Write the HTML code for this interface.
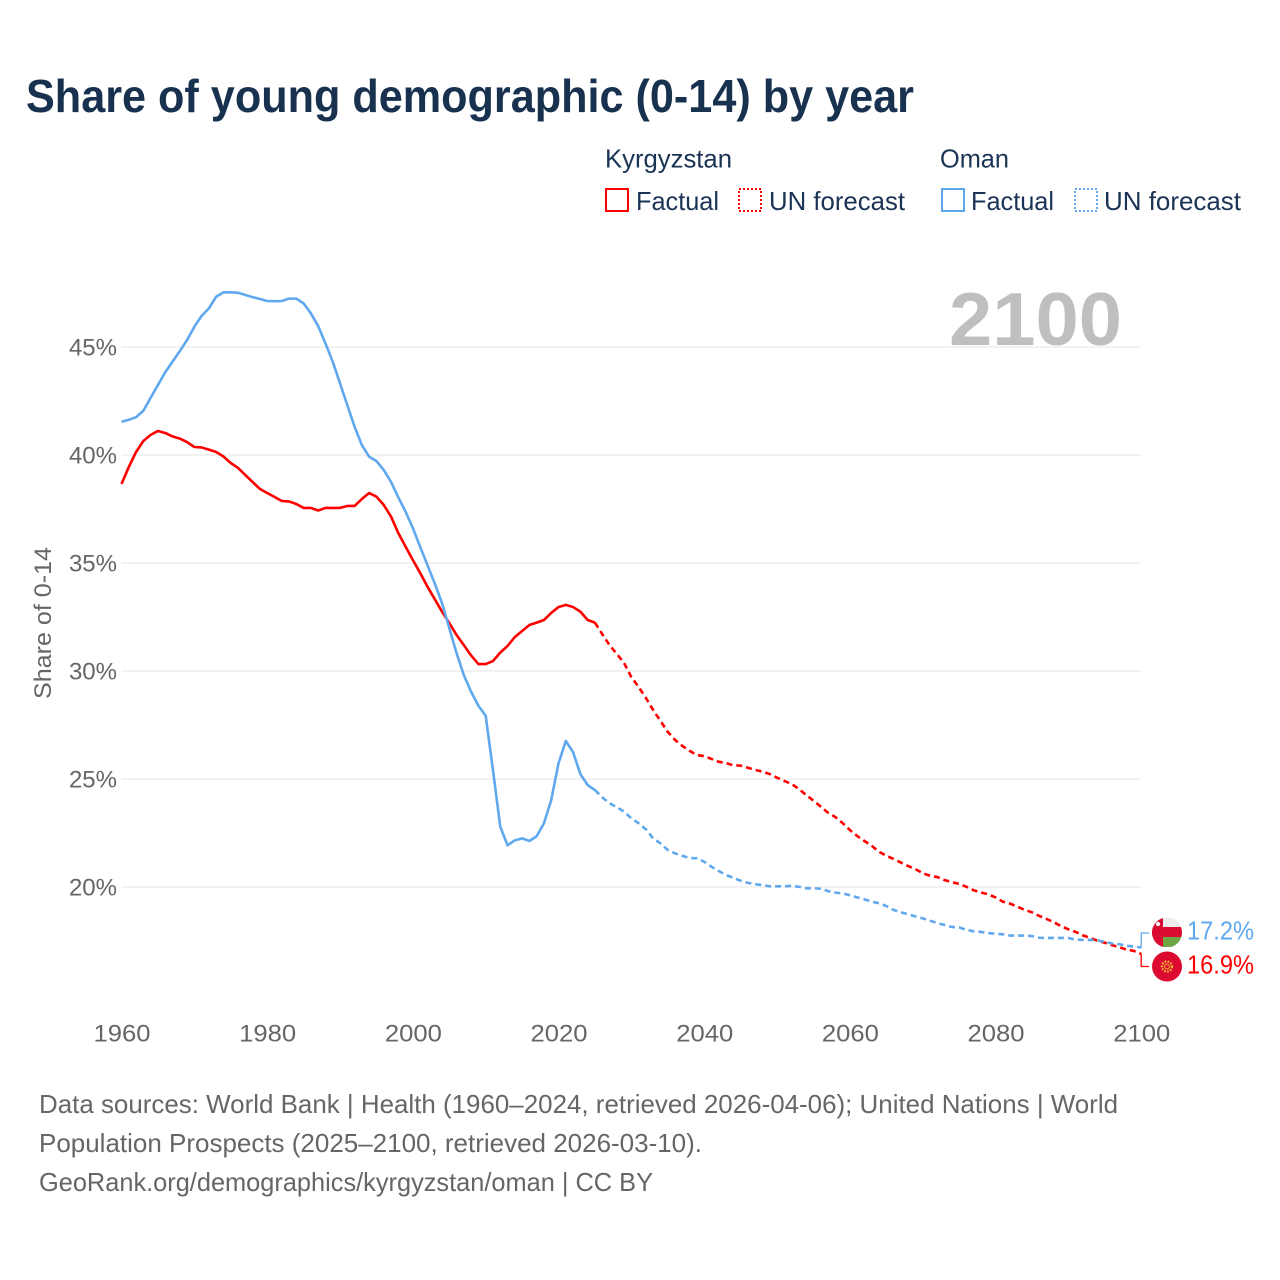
<!DOCTYPE html>
<html lang="en">
<head>
<meta charset="utf-8">
<title>Share of young demographic (0-14) by year</title>
<style>
html,body{margin:0;padding:0;background:#fff;}
svg{display:block;font-family:"Liberation Sans",sans-serif;}
</style>
</head>
<body>
<svg id="chart" xmlns="http://www.w3.org/2000/svg" width="1280" height="1280" viewBox="0 0 1280 1280">
<defs>
<clipPath id="flag-clip-om"><circle cx="1167" cy="932.5" r="15"/></clipPath>
<clipPath id="flag-clip-kg"><circle cx="1167" cy="966.5" r="15"/></clipPath>
</defs>
<rect x="0" y="0" width="1280" height="1280" fill="#ffffff"/>
<text x="26" y="112" font-size="46" font-weight="700" fill="#17314f" textLength="888" lengthAdjust="spacingAndGlyphs">Share of young demographic (0-14) by year</text>

<g font-size="26" fill="#1b3354">
<text x="605" y="167.5" textLength="127" lengthAdjust="spacingAndGlyphs">Kyrgyzstan</text>
<text x="940" y="167.5" textLength="69" lengthAdjust="spacingAndGlyphs">Oman</text>
<rect x="606" y="189" width="22" height="22" fill="none" stroke="#ff0000" stroke-width="2"/>
<text x="636" y="210" textLength="83" lengthAdjust="spacingAndGlyphs">Factual</text>
<rect x="739" y="189" width="22" height="22" fill="none" stroke="#ff0000" stroke-width="2" stroke-dasharray="2 2"/>
<text x="769" y="210" textLength="136" lengthAdjust="spacingAndGlyphs">UN forecast</text>
<rect x="942" y="189" width="22" height="22" fill="none" stroke="#5fa8ee" stroke-width="2"/>
<text x="971" y="210" textLength="83" lengthAdjust="spacingAndGlyphs">Factual</text>
<rect x="1075" y="189" width="22" height="22" fill="none" stroke="#5fa8ee" stroke-width="2" stroke-dasharray="2 2"/>
<text x="1104" y="210" textLength="137" lengthAdjust="spacingAndGlyphs">UN forecast</text>
</g>

<g id="grid"></g>
<text x="949" y="345" font-size="75" font-weight="700" fill="#bfbfbf" textLength="173" lengthAdjust="spacingAndGlyphs">2100</text>
<g id="y-ticks" font-size="24" fill="#666666"></g>
<g id="x-ticks" font-size="24" fill="#666666"></g>
<text transform="translate(51 699) rotate(-90)" x="0" y="0" font-size="24" fill="#666666" textLength="152" lengthAdjust="spacingAndGlyphs">Share of 0-14</text>
<g id="series" fill="none"></g>

<g clip-path="url(#flag-clip-om)">
<rect x="1152" y="917" width="30" height="30" fill="#ececec"/>
<rect x="1152" y="927" width="30" height="10" fill="#db0a30"/>
<rect x="1152" y="917" width="11" height="30" fill="#db0a30"/>
<rect x="1163" y="937" width="19" height="10" fill="#6fa544"/>
<circle cx="1158" cy="924" r="2.2" fill="#f4f4f4"/>
</g>
<g clip-path="url(#flag-clip-kg)">
<rect x="1152" y="951" width="30" height="31" fill="#dc0a30"/>
<circle cx="1167" cy="966.5" r="5" fill="none" stroke="#f2b632" stroke-width="2.4" stroke-dasharray="1.6 1.4"/>
<circle cx="1167" cy="966.5" r="2.4" fill="none" stroke="#f2b632" stroke-width="1"/>
</g>
<g id="end-labels" font-size="26"></g>

<g font-size="26" fill="#666666">
<text x="39" y="1113" textLength="1079" lengthAdjust="spacingAndGlyphs">Data sources: World Bank | Health (1960–2024, retrieved 2026-04-06); United Nations | World</text>
<text x="39" y="1152" textLength="663" lengthAdjust="spacingAndGlyphs">Population Prospects (2025–2100, retrieved 2026-03-10).</text>
<text x="39" y="1191" textLength="614" lengthAdjust="spacingAndGlyphs">GeoRank.org/demographics/kyrgyzstan/oman | CC BY</text>
</g>
</svg>

<script>
const startYear = 1960;
const lastFactualYear = 2025;
const xTickLabels = [1960, 1980, 2000, 2020, 2040, 2060, 2080, 2100];
const yTickLabels = [20, 25, 30, 35, 40, 45];

const kyrgyzstanFactual = [
38.66,39.44,40.14,40.65,40.93,41.11,41.02,40.86,40.76,40.6,
40.37,40.35,40.25,40.14,39.93,39.63,39.4,39.07,38.75,38.43,
38.24,38.06,37.87,37.85,37.73,37.55,37.55,37.43,37.55,37.55,
37.55,37.64,37.64,37.96,38.24,38.07,37.69,37.15,36.39,35.76,
35.14,34.54,33.91,33.33,32.75,32.22,31.67,31.2,30.72,30.32,
30.32,30.46,30.85,31.16,31.57,31.85,32.13,32.24,32.36,32.69,
32.96,33.06,32.96,32.75,32.36,32.24];
const kyrgyzstanForecast = [
31.71,31.2,30.79,30.37,29.72,29.26,28.75,28.19,27.69,27.18,
26.81,26.53,26.3,26.11,26.06,25.93,25.8,25.74,25.63,25.62,
25.52,25.42,25.34,25.23,25.06,24.91,24.77,24.54,24.26,24.0,
23.72,23.44,23.24,22.96,22.64,22.36,22.13,21.91,21.63,21.45,
21.3,21.13,20.97,20.83,20.64,20.52,20.46,20.32,20.23,20.14,
20.01,19.85,19.75,19.66,19.52,19.32,19.23,19.09,18.94,18.83,
18.66,18.52,18.37,18.19,18.04,17.92,17.76,17.64,17.51,17.42,
17.31,17.21,17.1,17.04,16.9];
const omanFactual = [
41.54,41.63,41.75,42.05,42.65,43.24,43.83,44.32,44.81,45.32,
45.94,46.44,46.79,47.33,47.53,47.53,47.51,47.41,47.31,47.22,
47.13,47.12,47.13,47.24,47.24,47.02,46.56,45.97,45.17,44.32,
43.32,42.31,41.31,40.46,39.92,39.72,39.31,38.76,38.04,37.38,
36.62,35.75,34.91,34.06,33.15,31.99,30.83,29.81,29.04,28.39,
27.93,25.42,22.79,21.93,22.16,22.25,22.13,22.35,22.95,24.03,
25.73,26.76,26.24,25.23,24.72,24.49];
const omanForecast = [
24.15,23.88,23.69,23.49,23.18,22.95,22.67,22.25,22.02,21.71,
21.56,21.44,21.34,21.33,21.17,20.94,20.74,20.56,20.42,20.29,
20.19,20.13,20.09,20.03,20.03,20.03,20.05,20.01,19.94,19.94,
19.92,19.81,19.74,19.71,19.62,19.52,19.43,19.32,19.25,19.12,
18.94,18.83,18.74,18.64,18.55,18.44,18.33,18.24,18.15,18.13,
18.02,17.95,17.92,17.86,17.84,17.81,17.75,17.75,17.75,17.73,
17.65,17.64,17.64,17.64,17.64,17.56,17.55,17.55,17.53,17.45,
17.39,17.35,17.28,17.24,17.2];

const NS = 'http://www.w3.org/2000/svg';
function xScale(year) { return 121.5 + (year - 1960) * 7.2836; }
function yScale(value) { return 887 - (value - 20) * 21.6; }
function make(tag, attrs, parent) {
  const el = document.createElementNS(NS, tag);
  for (const k in attrs) el.setAttribute(k, attrs[k]);
  parent.appendChild(el);
  return el;
}
function linePath(values, firstYear) {
  return values.map(function (v, i) {
    return (i ? 'L' : 'M') + xScale(firstYear + i).toFixed(2) + ' ' + yScale(v).toFixed(2);
  }).join('');
}

const grid = document.getElementById('grid');
const yTicks = document.getElementById('y-ticks');
const xTicks = document.getElementById('x-ticks');
const series = document.getElementById('series');
const endLabels = document.getElementById('end-labels');

yTickLabels.forEach(function (v) {
  const line = make('line', { x1: xScale(1960), x2: xScale(2100), y1: yScale(v), y2: yScale(v), stroke: '#e9e9e9', 'stroke-width': 1.2 }, grid);
  
  
  const t = make('text', { x: 117, y: yScale(v) + 8.5, 'text-anchor': 'end' }, yTicks);
  
  
  t.textContent = v + '%';
});

xTickLabels.forEach(function (year) {
  const t = make('text', { x: xScale(year) + 0.5, y: 1041.5, 'text-anchor': 'middle', textLength: 57, lengthAdjust: 'spacingAndGlyphs' }, xTicks);
  
  
  t.textContent = year;
});

const kgFactualLine = make('path', { d: linePath(kyrgyzstanFactual, startYear), stroke: '#ff0000', 'stroke-width': 2.6, 'stroke-linejoin': 'round' }, series);



const kgForecastLine = make('path', { d: linePath([kyrgyzstanFactual[kyrgyzstanFactual.length - 1]].concat(kyrgyzstanForecast), lastFactualYear), stroke: '#ff0000', 'stroke-width': 2.6, 'stroke-dasharray': '6 4' }, series);



const omFactualLine = make('path', { d: linePath(omanFactual, startYear), stroke: '#5fa8ee', 'stroke-width': 2.6, 'stroke-linejoin': 'round' }, series);



const omForecastLine = make('path', { d: linePath([omanFactual[omanFactual.length - 1]].concat(omanForecast), lastFactualYear), stroke: '#5fa8ee', 'stroke-width': 2.6, 'stroke-dasharray': '6 4' }, series);



const omLast = omanForecast[omanForecast.length - 1];
const kgLast = kyrgyzstanForecast[kyrgyzstanForecast.length - 1];

const omConnector = make('path', { d: 'M' + xScale(2100) + ' ' + yScale(omLast) + 'V933H1149', stroke: '#5fa8ee', 'stroke-width': 1.3 }, series);



const kgConnector = make('path', { d: 'M' + xScale(2100) + ' ' + yScale(kgLast) + 'V966.5H1149', stroke: '#ff0000', 'stroke-width': 1.3 }, series);



const omLabel = make('text', { x: 1187, y: 939.5, fill: '#5fa8ee', textLength: 67, lengthAdjust: 'spacingAndGlyphs' }, endLabels);


omLabel.textContent = omLast.toFixed(1) + '%';

const kgLabel = make('text', { x: 1187, y: 973.5, fill: '#ff0000', textLength: 67, lengthAdjust: 'spacingAndGlyphs' }, endLabels);


kgLabel.textContent = kgLast.toFixed(1) + '%';
</script>
</body>
</html>
